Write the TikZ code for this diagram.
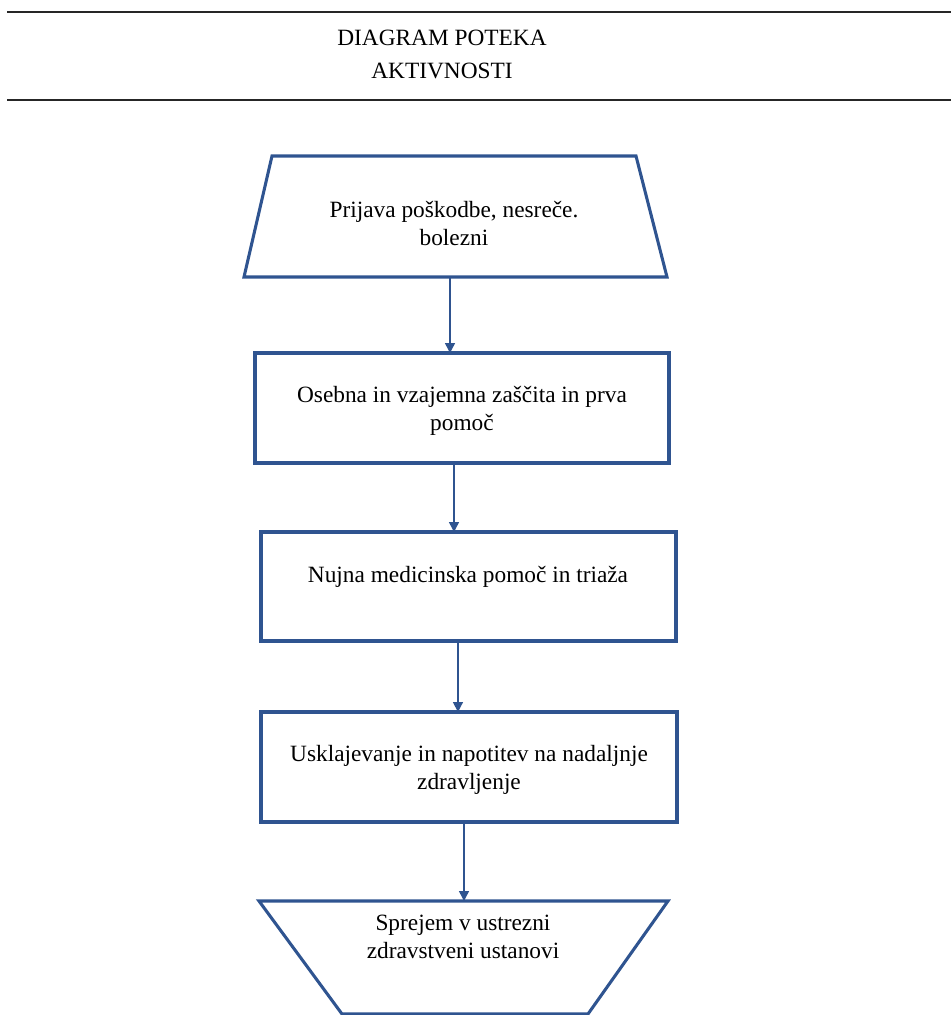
\documentclass[tikz,border=0pt]{standalone}
\usepackage{fontspec}
\setmainfont{Liberation Serif}
\usetikzlibrary{arrows.meta}
\definecolor{flowblue}{HTML}{2F5490}
\begin{document}
\begin{tikzpicture}[x=0.75pt,y=-0.75pt,
  boxline/.style={draw=flowblue,line width=2.3pt,line join=miter},
  stepbox/.style={boxline,rectangle,inner sep=0pt,outer sep=0pt},
  lbl/.style={font=\fontsize{17.5}{21}\selectfont,align=center,inner sep=0pt},
  ttl/.style={font=\fontsize{17.5}{24.75}\selectfont,align=center,inner sep=0pt},
  arr/.style={draw=flowblue,line width=1.1pt,-{Triangle[length=7.5pt,width=7.5pt]}},
  rulel/.style={draw=black!85,line width=1.5pt}]
\useasboundingbox (0,0) rectangle (951,1015);
% header rules
\coordinate (r1a) at (7,12); \coordinate (r1b) at (951,12);
\coordinate (r2a) at (7,100); \coordinate (r2b) at (951,100);
\draw[rulel] (r1a) -- (r1b);
\draw[rulel] (r2a) -- (r2b);
\node[ttl] (title) at (442,54) {DIAGRAM POTEKA\\AKTIVNOSTI};
% trapezoid 1
\coordinate (t1a) at (272,156); \coordinate (t1b) at (636,156);
\coordinate (t1c) at (667,277); \coordinate (t1d) at (244,277);
\draw[boxline] (t1a) -- (t1b) -- (t1c) -- (t1d) -- cycle;
\node[lbl] (t1) at (454,223) {Prijava poškodbe, nesreče.\\bolezni};
\coordinate (t1s) at (450,277);
% boxes
\node[stepbox,minimum width=310.5pt,minimum height=82.5pt] (b2) at (462,408) {};
\node[lbl] (b2t) at (462,411) {Osebna in vzajemna zaščita in prva\\pomoč};
\node[stepbox,minimum width=311.25pt,minimum height=81.75pt] (b3) at (468.5,586.5) {};
\node[lbl] (b3t) at (468,577) {Nujna medicinska pomoč in triaža};
\node[stepbox,minimum width=312pt,minimum height=82.5pt] (b4) at (469,767) {};
\node[lbl] (b4t) at (469,770) {Usklajevanje in napotitev na nadaljnje\\zdravljenje};
% trapezoid 5
\coordinate (t5a) at (259,901); \coordinate (t5b) at (668,901);
\coordinate (t5c) at (588,1014); \coordinate (t5d) at (342,1014);
\draw[boxline] (t5a) -- (t5b) -- (t5c) -- (t5d) -- cycle;
\node[lbl] (t5) at (463,937) {Sprejem v ustrezni\\zdravstveni ustanovi};
\coordinate (t5n) at (464,901);
% connectors
\draw[arr] (t1s) -- (t1s |- b2.north);
\draw[arr] ([xshift=-6pt]b2.south) -- ([xshift=-6pt]b2.south |- b3.north);
\draw[arr] ([xshift=-7.9pt]b3.south) -- ([xshift=-7.9pt]b3.south |- b4.north);
\draw[arr] ([xshift=-3.75pt]b4.south) -- (t5n);
\end{tikzpicture}
\end{document}
